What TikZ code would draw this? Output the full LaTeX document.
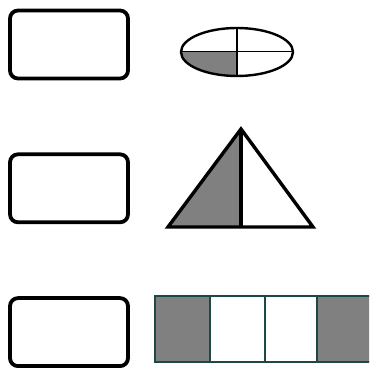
\documentclass[tikz,border=0pt]{standalone}
\usepackage{xcolor}
\usetikzlibrary{positioning}
\definecolor{stripline}{RGB}{28,72,70}
\tikzset{
  >=stealth,
  line cap=round,
  line join=round,
  answerbox/.style={draw, line width=3.8pt, rounded corners=8pt, minimum width=118pt, minimum height=68pt, inner sep=0pt},
  part/.style={fill=gray},
  outline/.style={draw=black, line width=3.4pt},
  cell/.style={draw=stripline, line width=2pt}
}
\begin{document}
\begin{tikzpicture}[x=1pt, y=1pt]
\useasboundingbox (0,0) rectangle (369,369);
\clip (0,0) rectangle (369,369);

% 빈 칸
\node[answerbox] (box1) at (69,324.5) {};
\node[answerbox, below=72pt of box1] (box2) {};
\node[answerbox, below=72pt of box2] (box3) {};

% 타원 (1/4)
\fill[part] (237,317) -- (181,317) arc[start angle=180, end angle=270, x radius=56, y radius=24] -- cycle;
\draw[line width=2.4pt] (237,317) ellipse [x radius=56, y radius=24];
\draw[line width=1pt] (181,317) -- (293,317);
\draw[line width=2.8pt] (237,341) -- (237,293);

% 삼각형 (1/2)
\fill[part] (168,142) -- (241,240) -- (241,142) -- cycle;
\draw[outline] (168,142) -- (241,240) -- (313,142) -- cycle;
\draw[outline] (241,240) -- (241,142);

% 띠 (2/4)
\fill[part] (155,7) rectangle (210,73);
\fill[part] (317,7) rectangle (372,73);
\draw[cell] (155,7) rectangle (372,73);
\foreach \x in {210,265,317}
  \draw[cell] (\x,7) -- (\x,73);

\end{tikzpicture}
\end{document}
